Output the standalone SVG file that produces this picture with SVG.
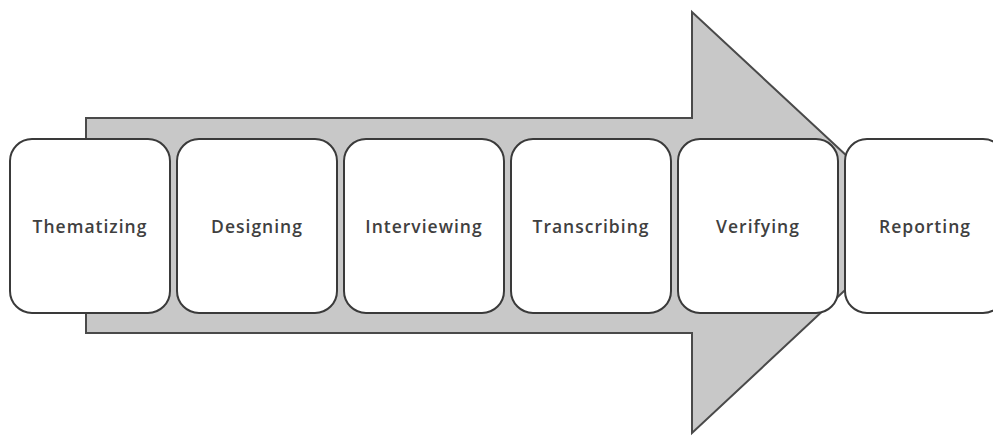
<svg xmlns="http://www.w3.org/2000/svg" width="993" height="437" viewBox="0 0 993 437">
<style>
.box{fill:#fff;stroke:#3a3a3a;stroke-width:2}
.lbl{font-family:"Open Sans","DejaVu Sans",sans-serif;font-size:17.5px;font-weight:600;fill:#404040;text-anchor:middle;dominant-baseline:central;letter-spacing:1px}
</style>
<rect width="993" height="437" fill="#fff"/>
<g id="arrow">
<polygon points="86,118 692,118 692,12 918,222 692,433 692,333 86,333" fill="#c8c8c8" stroke="#4a4a4a" stroke-width="2" stroke-linejoin="miter"/>
</g>
<g id="connectors"></g>
<g id="n1"><rect class="box" x="10" y="139" width="160" height="174" rx="22"/><text class="lbl" x="90" y="226">Thematizing</text></g>
<g id="n2"><rect class="box" x="177" y="139" width="160" height="174" rx="22"/><text class="lbl" x="257" y="226">Designing</text></g>
<g id="n3"><rect class="box" x="344" y="139" width="160" height="174" rx="22"/><text class="lbl" x="424" y="226">Interviewing</text></g>
<g id="n4"><rect class="box" x="511" y="139" width="160" height="174" rx="22"/><text class="lbl" x="591" y="226">Transcribing</text></g>
<g id="n5"><rect class="box" x="678" y="139" width="160" height="174" rx="22"/><text class="lbl" x="758" y="226">Verifying</text></g>
<g id="n6"><rect class="box" x="845" y="139" width="160" height="174" rx="22"/><text class="lbl" x="925" y="226">Reporting</text></g>
</svg>
